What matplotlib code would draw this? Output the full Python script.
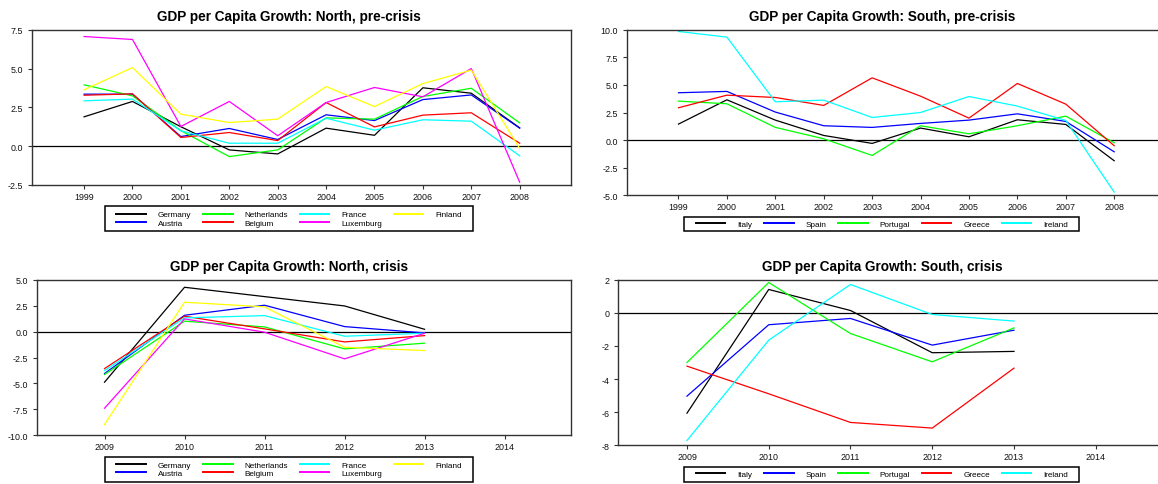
import matplotlib
matplotlib.use('Agg')
import matplotlib.pyplot as plt
from matplotlib.patches import Rectangle
from matplotlib.lines import Line2D

plt.rcParams['font.family'] = ['Liberation Sans', 'DejaVu Sans']

# ---------------- data ----------------
years_pre = [1999, 2000, 2001, 2002, 2003, 2004, 2005, 2006, 2007, 2008]
years_crisis = [2009, 2010, 2011, 2012, 2013]
xticks_crisis = [2009, 2010, 2011, 2012, 2013, 2014]

north_names = ["Germany", "Austria", "Netherlands", "Belgium", "France", "Luxemburg", "Finland"]
south_names = ["Italy", "Spain", "Portugal", "Greece", "Ireland"]

germany_pre = [1.89, 2.88, 1.25, -0.24, -0.50, 1.16, 0.70, 3.76, 3.41, 1.18]
austria_pre = [3.35, 3.35, 0.62, 1.14, 0.43, 2.02, 1.65, 3.00, 3.30, 1.16]
netherlands_pre = [3.95, 3.24, 1.00, -0.67, -0.24, 1.82, 1.74, 3.20, 3.73, 1.50]
belgium_pre = [3.28, 3.37, 0.56, 0.88, 0.36, 2.81, 1.24, 2.00, 2.15, 0.19]
france_pre = [2.92, 3.03, 0.99, 0.19, 0.19, 1.80, 1.03, 1.70, 1.61, -0.62]
luxemburg_pre = [7.06, 6.87, 1.27, 2.88, 0.67, 2.81, 3.78, 3.18, 5.00, -2.32]
finland_pre = [3.63, 5.06, 2.06, 1.52, 1.74, 3.84, 2.55, 4.03, 4.90, -0.15]

italy_pre = [1.45, 3.65, 1.81, 0.42, -0.30, 1.09, 0.30, 1.84, 1.42, -1.87]
spain_pre = [4.29, 4.41, 2.54, 1.30, 1.15, 1.51, 1.81, 2.38, 1.69, -1.06]
portugal_pre = [3.53, 3.29, 1.15, 0.12, -1.39, 1.30, 0.57, 1.30, 2.17, -0.24]
greece_pre = [2.93, 4.07, 3.86, 3.14, 5.64, 3.98, 1.99, 5.13, 3.26, -0.51]
ireland_pre = [9.84, 9.33, 3.47, 3.62, 2.05, 2.50, 3.95, 3.08, 1.78, -4.71]

germany_cr = [-4.88, 4.27, 3.37, 2.47, 0.22]
austria_cr = [-4.05, 1.57, 2.54, 0.48, -0.13]
netherlands_cr = [-4.14, 1.00, 0.45, -1.67, -1.12]
belgium_cr = [-3.57, 1.48, 0.26, -1.00, -0.39]
france_cr = [-3.76, 1.32, 1.54, -0.45, -0.16]
luxemburg_cr = [-7.39, 1.22, -0.06, -2.63, -0.16]
finland_cr = [-8.96, 2.83, 2.38, -1.51, -1.83]

italy_cr = [-6.06, 1.41, 0.14, -2.41, -2.33]
spain_cr = [-5.03, -0.72, -0.34, -1.95, -1.05]
portugal_cr = [-3.00, 1.83, -1.25, -2.96, -0.91]
greece_cr = [-3.22, -4.89, -6.62, -6.96, -3.34]
ireland_cr = [-7.71, -1.65, 1.71, -0.10, -0.50]

north_pre = [germany_pre, austria_pre, netherlands_pre, belgium_pre, france_pre, luxemburg_pre, finland_pre]
south_pre = [italy_pre, spain_pre, portugal_pre, greece_pre, ireland_pre]
north_cr = [germany_cr, austria_cr, netherlands_cr, belgium_cr, france_cr, luxemburg_cr, finland_cr]
south_cr = [italy_cr, spain_cr, portugal_cr, greece_cr, ireland_cr]

north_colors = ["#000000", "#0000FF", "#00FF00", "#FF0000", "#00FFFF", "#FF00FF", "#FFFF00"]
south_colors = ["#000000", "#0000FF", "#00FF00", "#FF0000", "#00FFFF"]

yticks_p1 = [-2.5, 0.0, 2.5, 5.0, 7.5]
yticks_p2 = [-5.0, -2.5, 0.0, 2.5, 5.0, 7.5, 10.0]
yticks_p3 = [-10.0, -7.5, -5.0, -2.5, 0.0, 2.5, 5.0]
yticks_p4 = [-8, -6, -4, -2, 0, 2]

titles = ["GDP per Capita Growth: North, pre-crisis",
          "GDP per Capita Growth: South, pre-crisis",
          "GDP per Capita Growth: North, crisis",
          "GDP per Capita Growth: South, crisis"]

# ---------------- layout ----------------
W, H = 1158, 485
fig = plt.figure(figsize=(W / 100, H / 100), dpi=100)
fig.patch.set_facecolor('white')


def px_axes(l, t, r, b):
    return fig.add_axes([l / W, 1 - b / H, (r - l) / W, (b - t) / H])


def style(ax, xlim, ylim, xticks, yticks, ylabels):
    ax.axhline(0, color='black', lw=0.9, zorder=1)
    ax.set_xlim(*xlim)
    ax.set_ylim(*ylim)
    ax.set_xticks(xticks)
    ax.set_xticklabels([str(x) for x in xticks])
    ax.set_yticks(yticks)
    ax.set_yticklabels(ylabels)
    for s in ax.spines.values():
        s.set_color('#333333')
        s.set_linewidth(1.0)
    ax.tick_params(axis='both', direction='out', length=3, width=0.8,
                   color='#333333', labelsize=6.4, labelcolor='#111111')
    ax.tick_params(axis='y', pad=3.5)
    ax.tick_params(axis='x', pad=2.0)


def legend_box(handles, labels, ncol, l, t, r, b):
    fig.add_artist(Rectangle((l / W, 1 - b / H), (r - l) / W, (b - t) / H,
                             transform=fig.transFigure, fill=False,
                             edgecolor='black', lw=1.1, zorder=5))
    cx, cy = (l + r) / 2, (t + b) / 2
    fig.legend(handles, labels, loc='center', bbox_to_anchor=(cx / W, 1 - cy / H),
               ncol=ncol, frameon=False, fontsize=5.9, handlelength=3.6,
               handletextpad=1.45, columnspacing=1.45, labelspacing=0.1,
               borderpad=0, borderaxespad=0)


def draw(ax, x, series, colors):
    for ys, c in zip(series, colors):
        ax.plot(x, ys, color=c, lw=0.9, zorder=2)


def handles_for(colors):
    return [Line2D([0], [0], color=c, lw=1.4) for c in colors]


xlim_pre = (1997.93, 2009.06)
xlim_cr = (2008.16, 2014.83)

# Panel 1
ax1 = px_axes(32.3, 30.7, 571, 186)
draw(ax1, years_pre, north_pre, north_colors)
style(ax1, xlim_pre, (-2.5, 7.5), years_pre, yticks_p1, [f"{v:.1f}" for v in yticks_p1])
fig.text(289 / W, 1 - 20.7 / H, titles[0], ha='center', va='baseline', fontsize=9.8, fontweight='bold')
legend_box(handles_for(north_colors), north_names, 4, 105, 207.3, 473.3, 232.3)

# Panel 2
ax2 = px_axes(626.7, 30.7, 1165.5, 196.3)
draw(ax2, years_pre, south_pre, south_colors)
style(ax2, xlim_pre, (-5, 10), years_pre, yticks_p2, [f"{v:.1f}" for v in yticks_p2])
fig.text(882 / W, 1 - 20.7 / H, titles[1], ha='center', va='baseline', fontsize=9.8, fontweight='bold')
legend_box(handles_for(south_colors), south_names, 5, 684.3, 217.7, 1079.3, 232.3)

# Panel 3
ax3 = px_axes(37.3, 280.7, 571, 436.3)
draw(ax3, years_crisis, north_cr, north_colors)
style(ax3, xlim_cr, (-10, 5), xticks_crisis, yticks_p3, [f"{v:.1f}" for v in yticks_p3])
fig.text(289 / W, 1 - 270.7 / H, titles[2], ha='center', va='baseline', fontsize=9.8, fontweight='bold')
legend_box(handles_for(north_colors), north_names, 4, 105, 457.7, 473.3, 482.7)

# Panel 4
ax4 = px_axes(618.3, 280.7, 1163.6, 446.3)
draw(ax4, years_crisis, south_cr, south_colors)
style(ax4, xlim_cr, (-8, 2), xticks_crisis, yticks_p4, [str(v) for v in yticks_p4])
fig.text(882 / W, 1 - 270.7 / H, titles[3], ha='center', va='baseline', fontsize=9.8, fontweight='bold')
legend_box(handles_for(south_colors), south_names, 5, 684.3, 467.7, 1079.3, 482.7)

fig.savefig('out.png', dpi=100, facecolor='white')
